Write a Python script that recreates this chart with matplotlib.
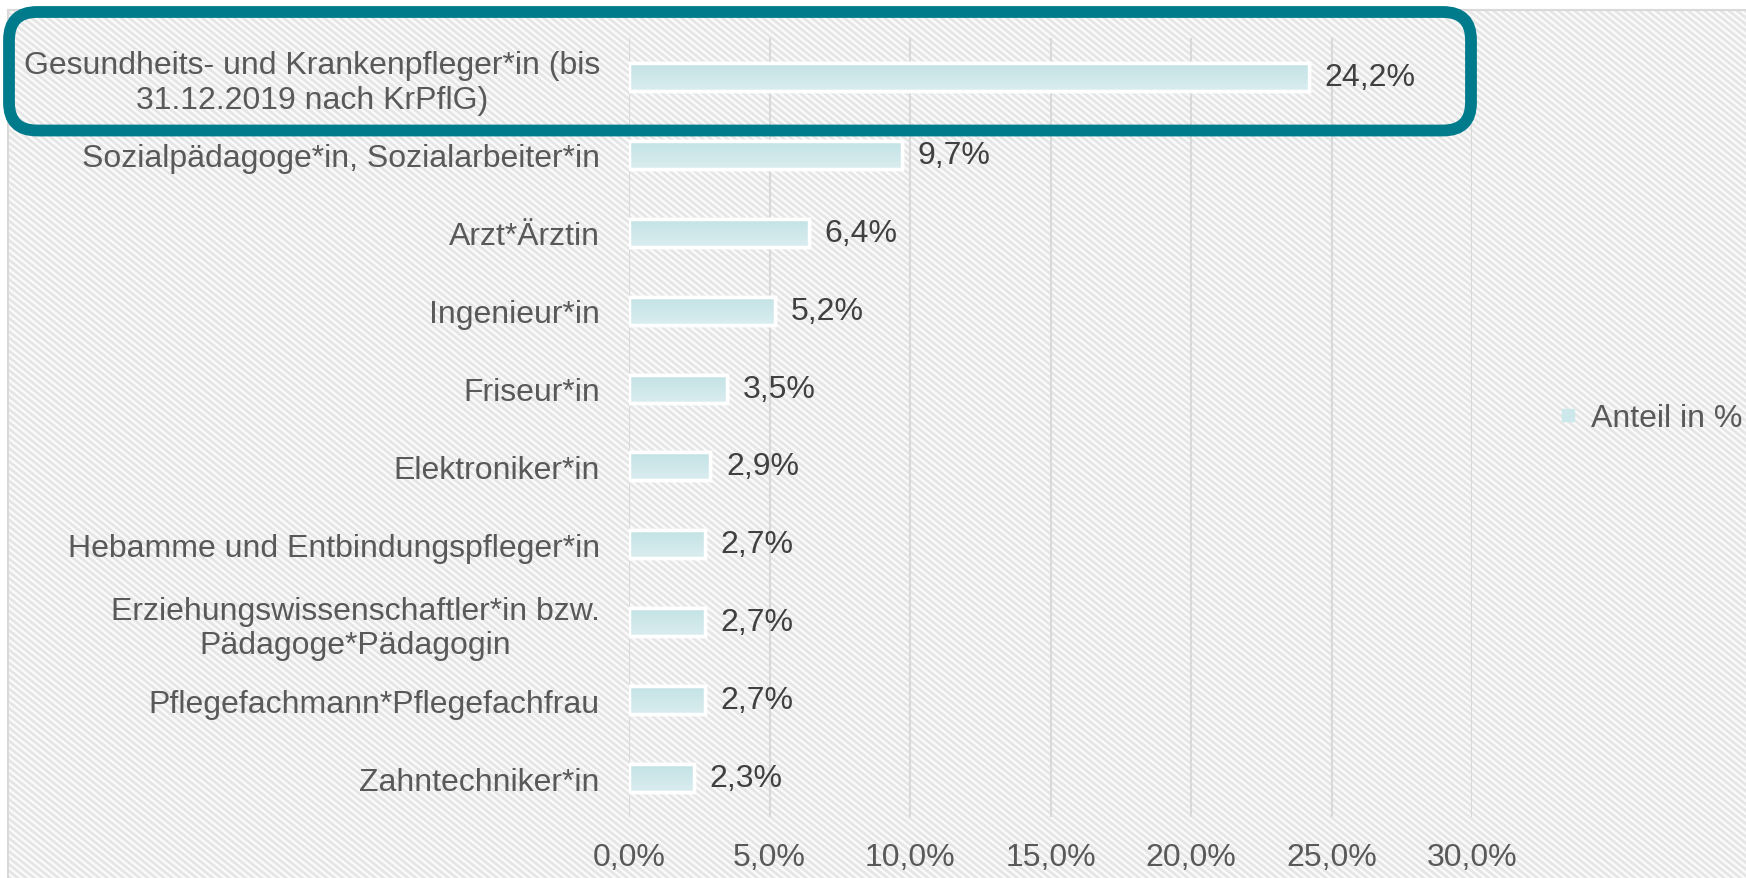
import numpy as np
import matplotlib
matplotlib.use("Agg")
import matplotlib.pyplot as plt
from matplotlib.patches import FancyBboxPatch, Rectangle
from matplotlib.lines import Line2D

plt.rcParams['font.family'] = ['Liberation Sans', 'DejaVu Sans']

categories = [
    "Gesundheits- und Krankenpfleger*in (bis\n31.12.2019 nach KrPflG)",
    "Sozialpädagoge*in, Sozialarbeiter*in",
    "Arzt*Ärztin",
    "Ingenieur*in",
    "Friseur*in",
    "Elektroniker*in",
    "Hebamme und Entbindungspfleger*in",
    "Erziehungswissenschaftler*in bzw.\nPädagoge*Pädagogin",
    "Pflegefachmann*Pflegefachfrau",
    "Zahntechniker*in",
]
values = [24.2, 9.7, 6.4, 5.2, 3.5, 2.9, 2.7, 2.7, 2.7, 2.3]
xticks = [0, 5, 10, 15, 20, 25, 30]
xticklabels = ["0,0%", "5,0%", "10,0%", "15,0%", "20,0%", "25,0%", "30,0%"]
series_name = "Anteil in %"

W, H = 1746, 879
FS = 23
fig = plt.figure(figsize=(W / 100, H / 100), dpi=100)
fig.patch.set_facecolor("white")

# striped chart-area background
bg = fig.add_axes([0, 0, 1, 1], zorder=0)
rows, cols = np.mgrid[0:H, 0:W]
phase = ((0.8 * cols - rows) % 6.5) / 6.5
stripe = np.clip((np.cos(2 * np.pi * phase) + 0.15) * 1.6, -1, 1) * 0.5 + 0.5
gray = 0.985 - 0.085 * stripe
img = np.dstack([gray, gray, gray])
top_px, left_px = 11, 8
img[:top_px, :, :] = 1.0
img[:, :left_px, :] = 1.0
bg.imshow(img, extent=[0, W, H, 0], aspect="auto", interpolation="nearest")
bg.plot([left_px, left_px], [top_px, H], color="#D9D9D9", lw=1.5)
bg.plot([left_px, W], [top_px, top_px], color="#D9D9D9", lw=1.5)
bg.set_xlim(0, W)
bg.set_ylim(H, 0)
bg.axis("off")

# main axes
x0, x1 = 629, 1472
y0, y1 = 39, 818
ax = fig.add_axes([x0 / W, 1 - y1 / H, (x1 - x0) / W, (y1 - y0) / H], zorder=2)
ax.patch.set_alpha(0)
n = len(categories)
ypos = np.arange(n)
bh = 0.36
bars = ax.barh(ypos, values, height=bh, color="#CDE8EA", edgecolor="white",
               linewidth=2.5, zorder=3)
grad = np.linspace(0, 1, 64).reshape(-1, 1)
top_c = np.array([0.76, 0.885, 0.895])
bot_c = np.array([0.855, 0.93, 0.94])
gimg = top_c[None, None, :] * (1 - grad[:, :, None]) + bot_c[None, None, :] * grad[:, :, None]
for b, v, y in zip(bars, values, ypos):
    im = ax.imshow(gimg, extent=[0, v, y + bh / 2, y - bh / 2], aspect="auto",
                   zorder=3.5, interpolation="bilinear")
    im.set_clip_path(b)
    ax.add_patch(Rectangle((0, y - bh / 2), v, bh, fill=False, edgecolor="white",
                           linewidth=2.5, zorder=4))
    ax.text(v + 0.55, y, f"{v:.1f}".replace(".", ",") + "%", va="center", ha="left",
            fontsize=FS, color="#404040", zorder=5)

ax.set_xlim(0, 30)
ax.set_ylim(n - 0.5, -0.5)
ax.set_xticks(xticks)
ax.set_xticklabels(xticklabels)
ax.set_yticks(ypos)
ax.set_yticklabels(categories, multialignment="center")
ax.tick_params(axis="both", length=0, labelsize=FS, labelcolor="#595959")
ax.tick_params(axis="y", pad=21)
ax.tick_params(axis="x", pad=18)
ax.grid(axis="x", color="#D9D9D9", linewidth=1.5, zorder=1)
ax.set_axisbelow(True)
for s in ax.spines.values():
    s.set_visible(False)

# legend
handle = Line2D([], [], marker="s", linestyle="none", markersize=9,
                markerfacecolor="#CDE8EA", markeredgecolor="#CDE8EA")
fig.legend([handle], [series_name], loc="center left",
           bbox_to_anchor=(1530 / W, 1 - 419 / H), frameon=False,
           fontsize=FS, labelcolor="#595959", handlelength=0.6, handletextpad=0.4)

# highlight box
ov = fig.add_axes([0, 0, 1, 1], zorder=10)
ov.set_xlim(0, W)
ov.set_ylim(H, 0)
ov.axis("off")
ov.patch.set_alpha(0)
box = FancyBboxPatch((9, 13), 1471 - 9, 131.5 - 13,
                     boxstyle="round,pad=0,rounding_size=28",
                     fill=False, edgecolor="#007B8C", linewidth=8.5)
ov.add_patch(box)

fig.savefig("out.png", dpi=100)
